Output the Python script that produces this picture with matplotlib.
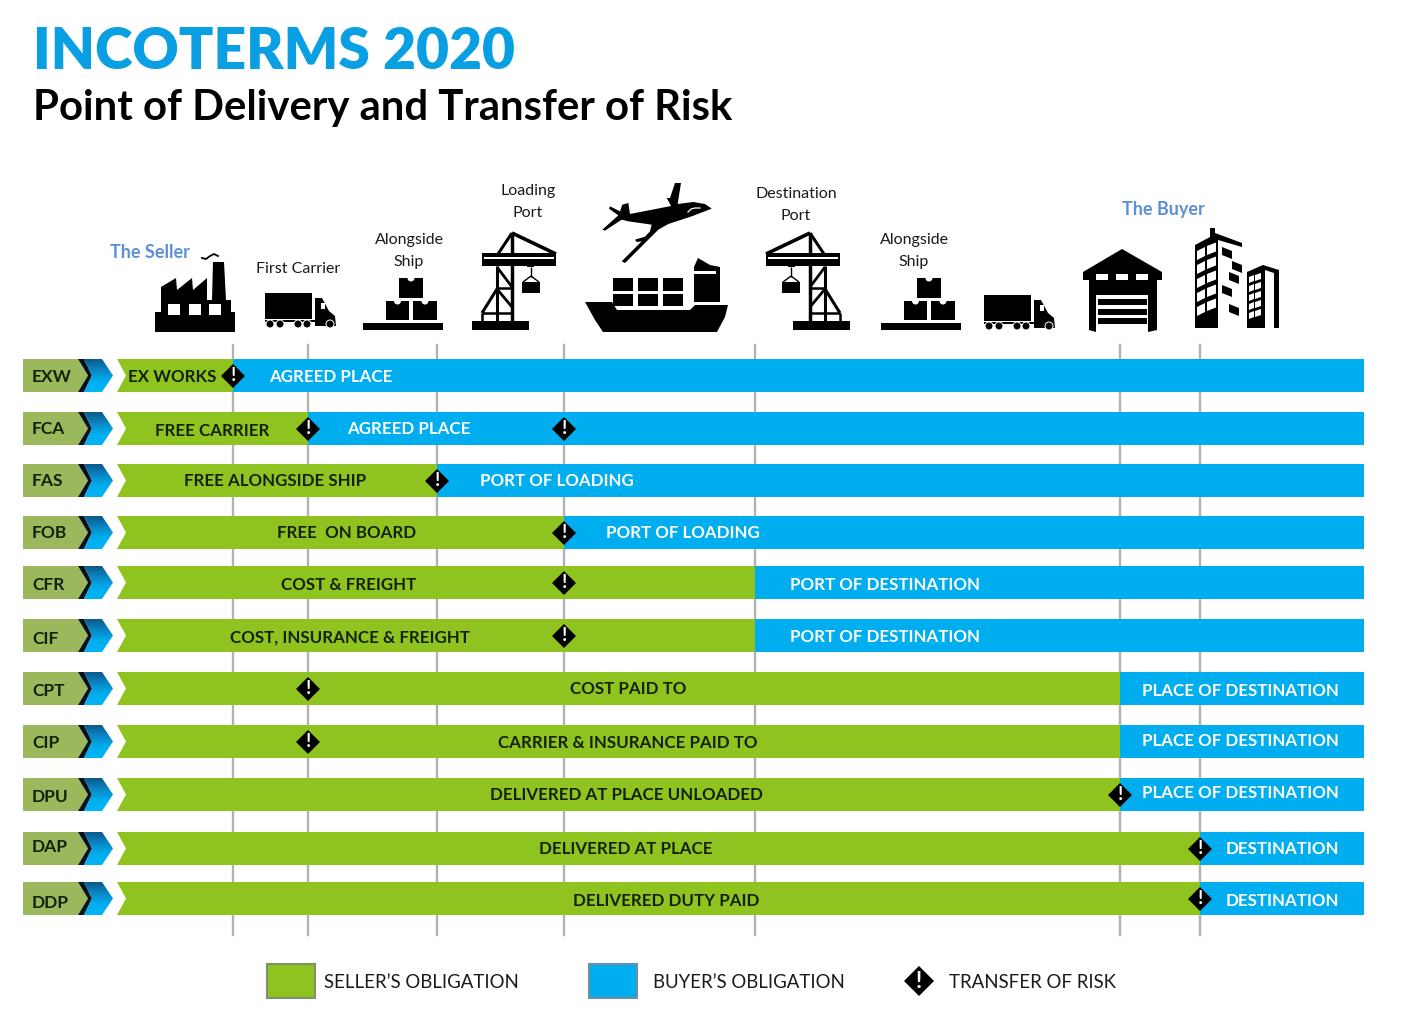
import numpy as np
import matplotlib
matplotlib.use("Agg")
import matplotlib.pyplot as plt
from matplotlib.patches import Polygon, Rectangle, Circle
from matplotlib.colors import LinearSegmentedColormap

# data
codes = ["EXW", "FCA", "FAS", "FOB", "CFR", "CIF", "CPT", "CIP", "DPU", "DAP", "DDP"]
seller_labels = ["EX WORKS", "FREE CARRIER", "FREE ALONGSIDE SHIP", "FREE  ON BOARD", "COST & FREIGHT",
                 "COST, INSURANCE & FREIGHT", "COST PAID TO", "CARRIER & INSURANCE PAID TO",
                 "DELIVERED AT PLACE UNLOADED", "DELIVERED AT PLACE", "DELIVERED DUTY PAID"]
buyer_labels = ["AGREED PLACE", "AGREED PLACE", "PORT OF LOADING", "PORT OF LOADING", "PORT OF DESTINATION",
                "PORT OF DESTINATION", "PLACE OF DESTINATION", "PLACE OF DESTINATION", "PLACE OF DESTINATION",
                "DESTINATION", "DESTINATION"]
# stage where the seller's part ends, and stages with a risk marker
seller_end = ["works", "carrier", "alongside", "loading", "destination", "destination",
              "place", "place", "place", "buyer", "buyer"]
risk_at = [["works"], ["carrier", "loading"], ["alongside"], ["loading"], ["loading"], ["loading"],
           ["carrier"], ["carrier"], ["place"], ["buyer"], ["buyer"]]

# layout, in pixels of the 1419x1011 picture
stage_x = {"works": 233, "carrier": 308, "alongside": 437, "loading": 564,
           "destination": 755, "place": 1120, "buyer": 1200}
row_top = [359, 412, 464, 516, 566, 619, 672, 725, 778, 832, 882]
row_h = 33
seller_text_x = [172, 212, 275, 347, 349, 350, 628, 628, 626, 626, 666]
buyer_text_x = [331, 409, 557, 683, 885, 885, 1240, 1240, 1240, 1282, 1282]
code_y = [377, 428, 481, 532, 584, 638, 690, 742, 796, 847, 902]
seller_y = [376, 430, 481, 533, 585, 637, 689, 742, 794, 849, 900]
buyer_y = [376, 429, 480, 532, 585, 637, 690, 741, 793, 849, 900]

GREEN = "#8FC31F"
BLUE = "#00AEEF"
CODE_GREEN = "#9BB85C"
LINK = "#5B8FD6"
FONT = "Lato"

fig = plt.figure(figsize=(14.19, 10.11), dpi=100)
ax = fig.add_axes([0, 0, 1, 1])
ax.axis("off")


def poly(pts, color="black", z=3):
    ax.add_patch(Polygon(pts, closed=True, facecolor=color, edgecolor="none", zorder=z))


def rect(x0, y0, x1, y1, color="black", z=3):
    ax.add_patch(Rectangle((x0, y0), x1 - x0, y1 - y0, facecolor=color, edgecolor="none", zorder=z))


def line(pts, lw=2.0, color="black", z=3):
    xs, ys = zip(*pts)
    ax.plot(xs, ys, color=color, lw=lw, zorder=z, solid_capstyle="butt")


def risk(x, y, ms=12.5, fs=13.5):
    ax.plot([x], [y], marker="D", ms=ms, color="black", mew=0, zorder=6)
    ax.text(x, y, "!", color="white", fontsize=fs, fontweight="bold", family=FONT,
            ha="center", va="center", zorder=7)


def factory():
    poly([(161, 287), (176, 278), (177, 290), (192, 278), (193, 290), (207, 278), (207, 300), (212, 300),
          (213, 262), (224, 262), (226, 300), (231, 300), (231, 312), (235, 312), (235, 332), (155, 332),
          (155, 312), (161, 312)])
    for x in [168, 189, 209]:
        rect(x, 304, x + 12, 315, "white", 4)
    ax.plot([202, 206, 210, 214, 218], [258, 259, 256, 254, 256], color="black", lw=1.3, zorder=3)


def truck(dx=0, dy=0):
    rect(265 + dx, 293 + dy, 312 + dx, 319 + dy)
    poly([(315 + dx, 298 + dy), (322 + dx, 298 + dy), (329 + dx, 311 + dy), (335 + dx, 316 + dy),
          (336 + dx, 326 + dy), (315 + dx, 326 + dy)])
    rect(321 + dx, 303 + dy, 325 + dx, 309 + dy, "white", 4)
    rect(265 + dx, 320 + dy, 326 + dx, 322 + dy)
    for x in [270, 280, 298, 307, 330]:
        ax.add_patch(Circle((x + dx, 324 + dy), 4, facecolor="black", edgecolor="white", lw=0.7, zorder=4))


def boxes(dx=0):
    rect(363 + dx, 323, 443 + dx, 330)
    for x0, y0, x1, y1 in [(399, 278, 423, 298), (386, 301, 409, 320), (413, 301, 437, 320)]:
        rect(x0 + dx, y0, x1 + dx, y1)
        cx = (x0 + x1) / 2 + dx
        ax.add_patch(Circle((cx, y0), 3.5, facecolor="white", edgecolor="none", zorder=4))


def crane(flip=None):
    def px(x):
        return x if flip is None else flip - x

    def pts(seq):
        return [(px(x), y) for x, y in seq]

    rect(px(472), 321, px(529), 330)
    rect(px(482), 253, px(556), 266)
    rect(px(484), 257, px(554), 259, "white", 4)
    line(pts([(512, 233), (498, 254)]), 2.2)
    line(pts([(512, 233), (556, 254)]), 2.6)
    line(pts([(497, 266), (497, 321)]), 2.2)
    line(pts([(512, 233), (512, 321)]), 2.5)
    line(pts([(497, 267), (512, 287)]), 2.0)
    line(pts([(497, 288), (512, 288)]), 1.8)
    line(pts([(497, 289), (482, 313)]), 2.2)
    line(pts([(497, 289), (512, 307)]), 2.0)
    line(pts([(482, 313), (512, 313)]), 1.8)
    line(pts([(482, 313), (482, 321)]), 1.8)
    rect(px(527), 261, px(534), 267)
    line(pts([(531, 267), (531, 277)]), 1.0)
    line(pts([(531, 276), (523, 282)]), 1.0)
    line(pts([(531, 276), (539, 282)]), 1.0)
    rect(px(522), 282, px(540), 293)


def ship():
    poly([(585, 302), (612, 302), (617, 310), (690, 310), (695, 305), (728, 305), (725, 317), (717, 332),
          (603, 332), (595, 320)])
    for x in [613, 638, 663]:
        rect(x, 278, x + 20, 291)
        rect(x, 294, x + 20, 306)
    poly([(694, 267), (698, 258), (710, 265), (720, 267), (720, 302), (694, 302)])
    rect(694, 271, 716, 274, "white", 4)


def plane():
    outline = [(350, 92), (330, 78), (295, 72), (248, 78), (258, 15), (240, 15), (225, 60), (215, 60), (222, 72),
               (228, 84), (105, 108), (100, 75), (82, 80), (75, 100), (45, 85), (42, 92), (70, 112), (22, 155),
               (30, 158), (80, 125), (100, 130), (170, 140), (165, 160), (150, 176), (120, 185), (125, 192),
               (140, 190), (80, 250), (90, 255), (190, 155), (220, 138), (290, 115)]
    poly([(595 + x / 3, 178 + y / 3) for x, y in outline])
    ax.plot([688, 691, 695, 700], [212, 209, 208, 208], color="white", lw=0.9, zorder=4)


def warehouse():
    poly([(1122, 249), (1162, 272), (1162, 280), (1157, 280), (1157, 330), (1148, 332), (1148, 295),
          (1096, 295), (1096, 332), (1089, 330), (1089, 280), (1083, 280), (1083, 272)])
    for x in [1096, 1116, 1136]:
        rect(x, 274, x + 12, 280, "white", 4)
    for y0, y1 in [(299, 305), (309, 315), (318, 324)]:
        rect(1098, y0, 1147, y1)


def buildings():
    poly([(1195, 245), (1210, 237), (1210, 228), (1215, 228), (1215, 233), (1242, 243), (1242, 247),
          (1218, 240), (1218, 328), (1195, 328)])
    for i in range(5):
        y = 251 + i * 14
        poly([(1197, y), (1205, y - 4), (1205, y + 5), (1197, y + 9)], "white", 4)
        poly([(1207, y - 5), (1216, y - 8.5), (1216, y + 0.5), (1207, y + 4)], "white", 4)
    for x, y in [(1222, 247), (1232, 261), (1229, 272), (1222, 285), (1229, 304)]:
        poly([(x, y), (x + 10, y + 4), (x + 10, y + 12), (x, y + 8)])
    poly([(1247, 272), (1263, 265), (1279, 270), (1279, 328), (1274, 328), (1274, 273), (1265, 270),
          (1265, 328), (1247, 328)])
    for i in range(5):
        y = 275 + i * 9
        poly([(1249, y + 2), (1254, y), (1254, y + 6), (1249, y + 8)], "white", 4)
        poly([(1255, y), (1261, y - 2), (1261, y + 4), (1255, y + 6)], "white", 4)


# grey stage lines behind the bars
for x in stage_x.values():
    ax.plot([x, x], [345, 935], color="#B2B2B2", lw=1.7, zorder=1)

# rows
cmap = LinearSegmentedColormap.from_list("chev", ["#0C5A8A", "#0A86C4", "#00AEEF", "#00B4F5"])
grad = np.linspace(0, 1, 64).reshape(-1, 1)
for i, code in enumerate(codes):
    t = row_top[i]
    b = t + row_h
    m = t + row_h / 2
    split = stage_x[seller_end[i]]

    poly([(23, t), (78, t), (88, m), (78, b), (23, b)], CODE_GREEN, 2)
    poly([(78, t), (84, t), (92, m), (84, b), (78, b), (88, m)], "#06121C", 3)
    chev = Polygon([(84, t), (102, t), (113, m), (102, b), (84, b), (92, m)], closed=True,
                   transform=ax.transData, facecolor="none", edgecolor="none")
    ax.add_patch(chev)
    im = ax.imshow(grad, cmap=cmap, extent=(82, 115, b, t), aspect="auto", zorder=3, origin="upper")
    im.set_clip_path(chev)

    poly([(117, t), (split, t), (split, b), (117, b), (126, m)], GREEN, 2)
    rect(split, t, 1364, b, BLUE, 2)

    ax.text(32, code_y[i] + 0.5, code, fontsize=12.5, fontweight="bold", family=FONT, color="#14220A",
            ha="left", va="center", zorder=5)
    ax.text(seller_text_x[i], seller_y[i] + 0.5, seller_labels[i], fontsize=12.2, fontweight="bold", family=FONT,
            color="#14220A", ha="center", va="center", zorder=5)
    ax.text(buyer_text_x[i], buyer_y[i] + 0.5, buyer_labels[i], fontsize=12.2, fontweight="bold", family=FONT,
            color="white", ha="center", va="center", zorder=5)
    for stage in risk_at[i]:
        risk(stage_x[stage], m)

# icons
factory()
truck()
truck(719, 2)
boxes()
boxes(518)
crane()
crane(1322)
ship()
plane()
warehouse()
buildings()

# headings
ax.text(33, 52, "INCOTERMS 2020", fontsize=41, fontweight="heavy", family=FONT, color="#0A9FE3",
        ha="left", va="center")
ax.text(33, 108, "Point of Delivery and Transfer of Risk", fontsize=30.2, fontweight="bold", family=FONT,
        color="black", ha="left", va="center")

for x, y, s in [(528, 191, "Loading"), (528, 213, "Port"), (796, 194, "Destination"), (796, 216, "Port"),
                (298, 269, "First Carrier"), (409, 240, "Alongside"), (409, 262, "Ship"),
                (914, 240, "Alongside"), (914, 262, "Ship")]:
    ax.text(x, y, s, fontsize=11.5, family=FONT, color="#1A1A1A", ha="center", va="center", zorder=5)
ax.text(150, 252, "The Seller", fontsize=13, fontweight="bold", family=FONT, color=LINK, ha="center", va="center")
ax.text(1163, 209, "The Buyer", fontsize=13, fontweight="bold", family=FONT, color=LINK, ha="center", va="center")

# legend
ax.add_patch(Rectangle((267, 964), 48, 34, facecolor=GREEN, edgecolor="#7F8F70", lw=1.5, zorder=3))
ax.add_patch(Rectangle((589, 964), 48, 34, facecolor=BLUE, edgecolor="#6F8FA0", lw=1.5, zorder=3))
risk(919, 981, ms=15.5, fs=16)
for x, s in [(324, "SELLER\u2019S OBLIGATION"), (653, "BUYER\u2019S OBLIGATION"), (949, "TRANSFER OF RISK")]:
    ax.text(x, 982.5, s, fontsize=13.4, family=FONT, color="#1A1A1A", ha="left", va="center")

ax.set_xlim(0, 1419)
ax.set_ylim(1011, 0)
fig.savefig("out.png", dpi=100, facecolor="white")
